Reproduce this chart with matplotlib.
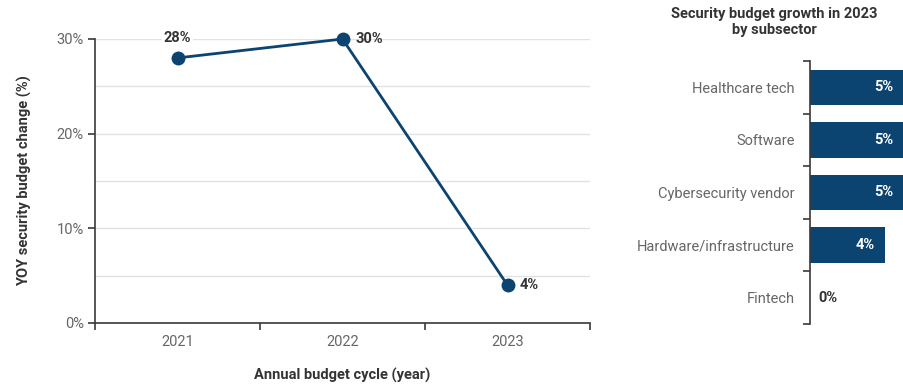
import matplotlib.pyplot as plt
from matplotlib.ticker import FixedLocator

plt.rcParams['font.family'] = ['Roboto', 'DejaVu Sans']

# YOY change by budget cycle
years = ["2021", "2022", "2023"]
yoy_change = [28, 30, 4]

# 2023 growth by subsector
subsectors = ["Healthcare tech", "Software", "Cybersecurity vendor",
              "Hardware/infrastructure", "Fintech"]
growth_2023 = [5, 5, 5, 4, 0]

navy = "#0b4470"
text_grey = "#666666"
dark = "#333333"
spine_col = "#3a3a3a"

fig = plt.figure(figsize=(9.04, 3.87), dpi=100)

# -----------------------------
# Line chart
# -----------------------------
ax = fig.add_axes([95 / 904, 1 - 323 / 387, 495 / 904, 284 / 387])
xs = list(range(len(years)))
ax.plot(xs, yoy_change, color=navy, lw=2.0, marker="o", markersize=9,
        zorder=3, clip_on=False)

ax.set_xlim(-0.5, len(years) - 0.5)
ax.set_ylim(0, 30)
ax.xaxis.set_major_locator(FixedLocator([i - 0.5 for i in range(len(years) + 1)]))
ax.xaxis.set_minor_locator(FixedLocator(xs))
ax.set_xticklabels([])
ax.set_xticklabels(years, minor=True)
ax.tick_params(axis="x", which="major", length=5, width=1.2, color=spine_col)
ax.tick_params(axis="x", which="minor", length=0, pad=9, labelsize=10.5, labelcolor=text_grey)

ax.set_yticks([0, 10, 20, 30])
ax.set_yticklabels([f"{v}%" for v in [0, 10, 20, 30]])
ax.yaxis.set_minor_locator(FixedLocator([5, 15, 25]))
ax.tick_params(axis="y", which="major", length=5, width=1.2, color=spine_col,
               labelsize=10.5, labelcolor=text_grey, pad=3)
ax.tick_params(axis="y", which="minor", length=0)
ax.grid(axis="y", which="both", color="#e2e2e2", lw=1)
ax.set_axisbelow(True)

for s in ["top", "right"]:
    ax.spines[s].set_visible(False)
for s in ["left", "bottom"]:
    ax.spines[s].set_color(spine_col)
    ax.spines[s].set_linewidth(1.2)

# value labels: first above the point, the rest to the right
for i, v in enumerate(yoy_change):
    if i == 0:
        ax.annotate(f"{v}%", (i, v), xytext=(0, 9), textcoords="offset points",
                    ha="center", va="bottom", fontsize=10.5, fontweight="bold",
                    color=dark, bbox=dict(fc="white", ec="none", pad=1))
    else:
        ax.annotate(f"{v}%", (i, v), xytext=(9, 0), textcoords="offset points",
                    ha="left", va="center", fontsize=10.5, fontweight="bold", color=dark)

ax.set_xlabel("Annual budget cycle (year)", fontsize=10.5, fontweight="bold",
              color=dark, labelpad=13)
ax.set_ylabel("YOY security budget change (%)", fontsize=10.5, fontweight="bold",
              color=dark, labelpad=18)

# -----------------------------
# Bar chart
# -----------------------------
bx = fig.add_axes([810 / 904, 1 - 324 / 387, 94 / 904, 263 / 387])
ys = list(range(len(subsectors)))
bx.barh(ys, growth_2023, height=0.67, color=navy)
bx.set_xlim(0, 5)
bx.set_ylim(len(subsectors) - 0.5, -0.5)
bx.set_xticks([])

bx.yaxis.set_major_locator(FixedLocator([i - 0.5 for i in range(len(subsectors) + 1)]))
bx.yaxis.set_minor_locator(FixedLocator(ys))
bx.set_yticklabels([])
bx.set_yticklabels(subsectors, minor=True)
bx.tick_params(axis="y", which="major", length=5, width=1.2, color=spine_col)
bx.tick_params(axis="y", which="minor", length=0, pad=11, labelsize=10.5, labelcolor=text_grey)

for s in ["top", "right", "bottom"]:
    bx.spines[s].set_visible(False)
bx.spines["left"].set_color(spine_col)
bx.spines["left"].set_linewidth(1.2)

for y, v in zip(ys, growth_2023):
    if v > 0.5:
        bx.text(v - 0.55, y, f"{v}%", ha="right", va="center", fontsize=10.5,
                fontweight="bold", color="white")
    else:
        bx.text(v + 0.45, y, f"{v}%", ha="left", va="center", fontsize=10.5,
                fontweight="bold", color=dark)

fig.text(774 / 904, 1 - 22 / 387, "Security budget growth in 2023\nby subsector",
         ha="center", va="center", fontsize=10.5, fontweight="bold", color=dark,
         linespacing=1.2)

fig.savefig("out.png", dpi=100)
